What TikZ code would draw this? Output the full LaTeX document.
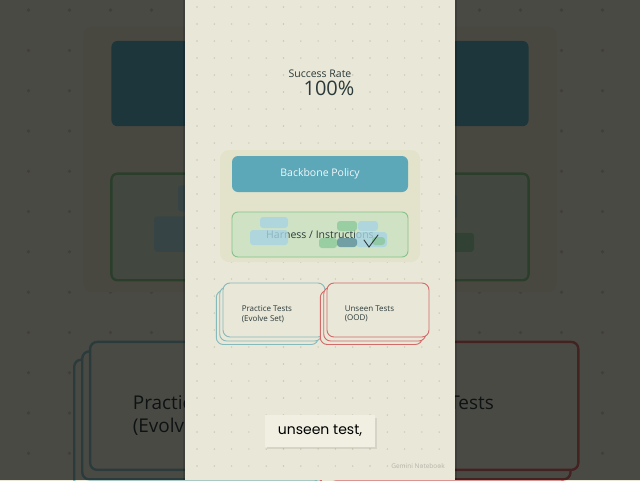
\documentclass[tikz,border=0pt]{standalone}
\usepackage{fontspec}
\setmainfont{Open Sans}
\newfontfamily\handfont{Poppins}
\usetikzlibrary{positioning}

\definecolor{paper}{HTML}{E9E7D7}
\definecolor{dotgray}{HTML}{CBC7B3}
\definecolor{panelfill}{HTML}{E3E2CB}
\definecolor{policyteal}{HTML}{5CA8B9}
\definecolor{harnessfill}{HTML}{CFE3C4}
\definecolor{harnessline}{HTML}{86C28A}
\definecolor{practiceline}{HTML}{86B9B9}
\definecolor{unseenline}{HTML}{D26A6A}
\definecolor{inkdark}{HTML}{2A3A3A}
\definecolor{captionfill}{HTML}{F0EFE2}
\definecolor{blobblue}{HTML}{A6D3E2}
\definecolor{blobgreen}{HTML}{8CC89A}
\definecolor{blobslate}{HTML}{5B8E9C}

\tikzset{
  policybox/.style={fill=policyteal,rounded corners=6pt,minimum width=176pt,minimum height=36pt},
  harnessbox/.style={fill=harnessfill,draw=harnessline,rounded corners=6pt,minimum width=176pt,
    minimum height=45pt},
  boxtext/.style={font=\fontsize{10.5}{12}\selectfont},
  card/.style={fill=paper,draw=#1,rounded corners=7pt,minimum width=102pt,minimum height=54pt},
  cardtext/.style={anchor=west,align=left,text=inkdark,inner sep=0pt,font=\fontsize{8}{9.5}\selectfont},
  blob/.style={fill=#1,opacity=0.8,rounded corners=3pt}
}

% shapes of the notebook page, drawn twice (backdrop and page)
\newcommand{\drawframe}[1]{%
  \fill[paper] (185,0) rectangle (455,480);
  \foreach \i in {0,...,15}
    \foreach \j in {0,...,28}
      \fill[dotgray] (197+17.3*\i,7+17*\j) circle [radius=0.8];
  \node[fill=panelfill,rounded corners=9pt,minimum width=200pt,minimum height=112pt] (core) at (320,206) {};
  \node[policybox] (policy) at (320,174) {};
  \node[harnessbox,line width=#1] (harness) at (320,234.5) {};
  % test decks
  \node[card=practiceline,line width=#1] (practice3) at (267.3,317.5) {};
  \node[card=practiceline,line width=#1] (practice2) at (270.7,314) {};
  \node[card=practiceline,line width=#1] (practice) at (274,310) {};
  \node[cardtext] (practicetext) at ([xshift=19pt,yshift=-4pt]practice.west) {Practice Tests\\(Evolve Set)};
  \node[card=unseenline,line width=#1] (unseen3) at (371.3,317.5) {};
  \node[card=unseenline,line width=#1] (unseen2) at (374.7,314) {};
  \node[card=unseenline,line width=#1] (unseen) at (378,310) {};
  \node[cardtext] (unseentext) at ([xshift=18pt,yshift=-4pt]unseen.west) {Unseen Tests\\(OOD)};
}

\begin{document}
\begin{tikzpicture}[x=1pt,y=-1pt]
  \useasboundingbox (0,0) rectangle (640,480);
  % blurred backdrop of the same frame
  \begin{scope}
    \clip (0,0) rectangle (640,480);
    \begin{scope}[shift={(320,240)},scale=2.37,shift={(-320,-240)},every node/.append style={transform shape}]
      \drawframe{2.4pt}
      \fill[blob=blobblue] (250,230) rectangle (288,245);
      \fill[blob=blobblue] (260,217) rectangle (288,228);
      \fill[blob=blobblue] (358,221) rectangle (378,231);
      \fill[blob=blobgreen] (372,237) rectangle (385,245);
    \end{scope}
    \fill[black,opacity=0.68] (0,0) rectangle (640,480);
  \end{scope}
  % the page itself
  \fill[black,opacity=0.15] (183,0) rectangle (457,480);
  \begin{scope}
    \clip (185,0) rectangle (455,480);
    \drawframe{0.9pt}
    \node[text=inkdark,font=\fontsize{10.5}{12}\selectfont] (rate) at (320,74) {Success Rate};
    \node[text=inkdark,font=\fontsize{20}{22}\selectfont,below=-4pt of rate,xshift=9pt] (score) {100\%};
    \node[boxtext,text=white!92!policyteal] (policytext) at (policy) {Backbone Policy};
    \node[boxtext,text=inkdark] (harnesstext) at (harness) {Harness / Instructions};
    \fill[blob=blobblue] (260,217) rectangle (288,228);
    \fill[blob=blobblue] (250,230) rectangle (288,245);
    \fill[blob=blobgreen] (337,221) rectangle (357,231);
    \fill[blob=blobblue] (358,221) rectangle (378,231);
    \fill[blob=blobblue] (356,232) rectangle (387,247);
    \fill[blob=blobgreen] (319,238) rectangle (337,248);
    \fill[blob=blobslate] (337,238) rectangle (357,247);
    \fill[blob=blobgreen] (372,237) rectangle (385,245);
    \draw[inkdark,line width=0.9pt,line cap=round] (364,240) -- (369,247) -- (378,235);
    % caption
    \fill[black,opacity=0.08] (267,418) rectangle (377,449);
    \node[fill=captionfill,minimum width=110pt,minimum height=32pt,text=black,
      font=\handfont\fontsize{14}{16}\selectfont] (caption) at (320,431) {unseen test,};
    \node[text=black!22!paper,font=\fontsize{6.5}{8}\selectfont] (mark) at (418,466) {Gemini Notebook};
  \end{scope}
\end{tikzpicture}
\end{document}
